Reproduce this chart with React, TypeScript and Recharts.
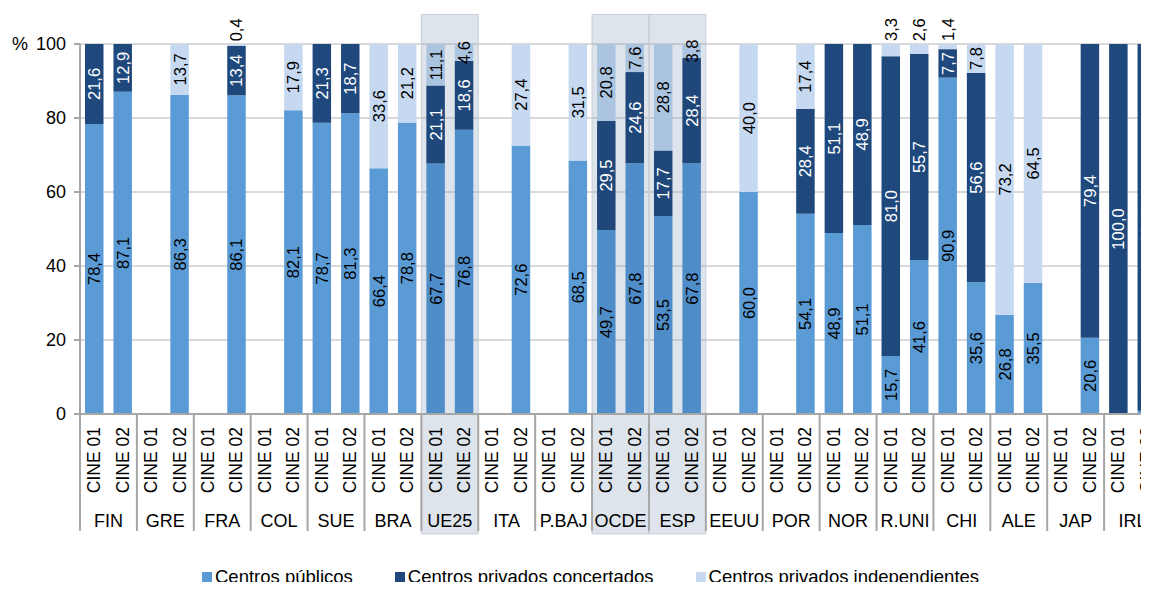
import { BarChart, Bar, XAxis, YAxis, CartesianGrid, Legend, LabelList, ReferenceArea, Cell } from "recharts";

const countries = ["FIN", "GRE", "FRA", "COL", "SUE", "BRA", "UE25", "ITA", "P.BAJ", "OCDE", "ESP", "EEUU", "POR", "NOR", "R.UNI", "CHI", "ALE", "JAP", "IRL"];
const levels = ["CINE 01", "CINE 02"];
const highlighted = ["UE25", "OCDE", "ESP"];

// two values per country: CINE 01, CINE 02
const publicos = [
  78.4, 87.1, null, 86.3, null, 86.1, null, 82.1, 78.7, 81.3, 66.4, 78.8, 67.7, 76.8, null, 72.6, null, 68.5, 49.7,
  67.8, 53.5, 67.8, null, 60.0, null, 54.1, 48.9, 51.1, 15.7, 41.6, 90.9, 35.6, 26.8, 35.5, null, 20.6, null, 0.9,
];
const concertados = [
  21.6, 12.9, null, null, null, 13.4, null, null, 21.3, 18.7, null, null, 21.1, 18.6, null, null, null, null, 29.5,
  24.6, 17.7, 28.4, null, null, null, 28.4, 51.1, 48.9, 81.0, 55.7, 7.7, 56.6, null, null, null, 79.4, 100.0, 99.1,
];
const independientes = [
  null, null, null, 13.7, null, 0.4, null, 17.9, null, null, 33.6, 21.2, 11.1, 4.6, null, 27.4, null, 31.5, 20.8,
  7.6, 28.8, 3.8, null, 40.0, null, 17.4, null, null, 3.3, 2.6, 1.4, 7.8, 73.2, 64.5, null, null, null, null,
];

const data = countries.flatMap((c, ci) =>
  levels.map((l, li) => {
    const i = ci * 2 + li;
    return { key: `${c}|${l}`, country: c, pub: publicos[i], conc: concertados[i], ind: independientes[i] };
  })
);

const FONT = "'Liberation Sans', Arial, sans-serif";
const colors: Record<string, string> = {
  pub: "#5b9bd5",
  conc: "#1f497d",
  ind: "#c6d9f1",
  pubHi: "#4f8dc8",
  concHi: "#1f477a",
  indHi: "#abc4e0",
};
const seriesOrder = ["pub", "conc", "ind"];

const fmt = (v: number) => v.toFixed(1).replace(".", ",");

const segmentLabel = (fill: string) => (props: any) => {
  const { value } = props;
  if (value == null) return null;
  const vb = props.viewBox || props;
  const { x, y, width, height } = vb;
  const cx = x + width / 2;
  if (value < 3.5) {
    // too small: put it just above the segment
    return (
      <text x={cx} y={y - 3} transform={`rotate(-90 ${cx} ${y - 3})`} textAnchor="start" dominantBaseline="central"
        fontSize={16.5} fontFamily={FONT} fill="#000">
        {fmt(value)}
      </text>
    );
  }
  const cy = y + height / 2;
  return (
    <text x={cx} y={cy} transform={`rotate(-90 ${cx} ${cy})`} textAnchor="middle" dominantBaseline="central"
      fontSize={16.5} fontFamily={FONT} fill={fill}>
      {fmt(value)}
    </text>
  );
};

const CategoryTick = (props: any) => {
  const { x, y, payload } = props;
  const index = props.index ?? payload.index;
  const half = payload.offset || 14.22;
  const [country, level] = String(payload.value).split("|");
  return (
    <g>
      <text x={x} y={y + 13} transform={`rotate(-90 ${x} ${y + 13})`} textAnchor="end" dominantBaseline="central"
        fontSize={17.5} fontFamily={FONT} fill="#000">
        {level}
      </text>
      {index % 2 === 0 && (
        <>
          <line x1={x - half} x2={x - half} y1={y} y2={y + 117} stroke="#a6a6a6" strokeWidth={2} />
          <text x={x + half} y={y + 107} textAnchor="middle" dominantBaseline="central" fontSize={18} fontFamily={FONT} fill="#000">
            {country}
          </text>
        </>
      )}
      {index === data.length - 1 && (
        <line x1={x + half} x2={x + half} y1={y} y2={y + 117} stroke="#a6a6a6" strokeWidth={2} />
      )}
    </g>
  );
};

const renderLegend = (props: any) => {
  const items = [...(props.payload || [])].sort(
    (a: any, b: any) => seriesOrder.indexOf(a.dataKey) - seriesOrder.indexOf(b.dataKey)
  );
  return (
    <div style={{ display: "flex", fontFamily: FONT, fontSize: 18.5, lineHeight: "22px", color: "#000", whiteSpace: "nowrap" }}>
      {items.map((p: any) => (
        <div key={p.dataKey} style={{ display: "flex", alignItems: "center", marginRight: 42 }}>
          <span style={{ width: 10, height: 10, background: colors[p.dataKey], marginRight: 3, display: "inline-block" }} />
          <span>{p.value}</span>
        </div>
      ))}
    </div>
  );
};

const isHi = (c: string) => highlighted.includes(c);

export default function App() {
  return (
    <div style={{ margin: -8, width: 1149, height: 590, overflow: "hidden", position: "relative", background: "#fff" }}>
      <BarChart width={1171} height={590} data={data} margin={{ top: 44, right: 10, left: 0, bottom: 0 }} barSize={18.5}>
        <CartesianGrid vertical={false} stroke="#d9d9d9" strokeWidth={2} />
        {highlighted.map((c) => (
          <ReferenceArea
            key={c}
            x1={`${c}|CINE 01`}
            x2={`${c}|CINE 02`}
            y1={-32.4}
            y2={108}
            ifOverflow="visible"
            fill="#8fa4bf"
            fillOpacity={0.3}
            stroke="#c9ced6"
            strokeWidth={1}
            zIndex={-50}
          />
        ))}
        <XAxis
          dataKey="key"
          interval={0}
          height={176}
          tickSize={0}
          tickMargin={0}
          tickLine={false}
          axisLine={{ stroke: "#a6a6a6", strokeWidth: 2 }}
          tick={<CategoryTick />}
        />
        <YAxis
          domain={[0, 100]}
          ticks={[0, 20, 40, 60, 80, 100]}
          width={80}
          tickSize={6}
          tickMargin={8}
          axisLine={{ stroke: "#a6a6a6", strokeWidth: 2 }}
          tickLine={{ stroke: "#a6a6a6", strokeWidth: 2 }}
          tick={{ fill: "#000", fontSize: 18, fontFamily: FONT }}
          label={{
            content: () => (
              <text x={12} y={44} dominantBaseline="central" fontSize={18} fontFamily={FONT} fill="#000">
                %
              </text>
            ),
          }}
        />
        <Legend
          content={renderLegend}
          verticalAlign="middle"
          align="center"
          wrapperStyle={{ top: 566, left: 202, width: 940 }}
        />
        <Bar dataKey="pub" name="Centros públicos" stackId="a" fill={colors.pub} isAnimationActive={false}>
          {data.map((d) => (
            <Cell key={d.key} fill={isHi(d.country) ? colors.pubHi : colors.pub} />
          ))}
          <LabelList dataKey="pub" content={segmentLabel("#000")} />
        </Bar>
        <Bar dataKey="conc" name="Centros privados concertados" stackId="a" fill={colors.conc} isAnimationActive={false}>
          {data.map((d) => (
            <Cell key={d.key} fill={isHi(d.country) ? colors.concHi : colors.conc} />
          ))}
          <LabelList dataKey="conc" content={segmentLabel("#fff")} />
        </Bar>
        <Bar dataKey="ind" name="Centros privados independientes" stackId="a" fill={colors.ind} isAnimationActive={false}>
          {data.map((d) => (
            <Cell key={d.key} fill={isHi(d.country) ? colors.indHi : colors.ind} />
          ))}
          <LabelList dataKey="ind" content={segmentLabel("#000")} />
        </Bar>
      </BarChart>
    </div>
  );
}
